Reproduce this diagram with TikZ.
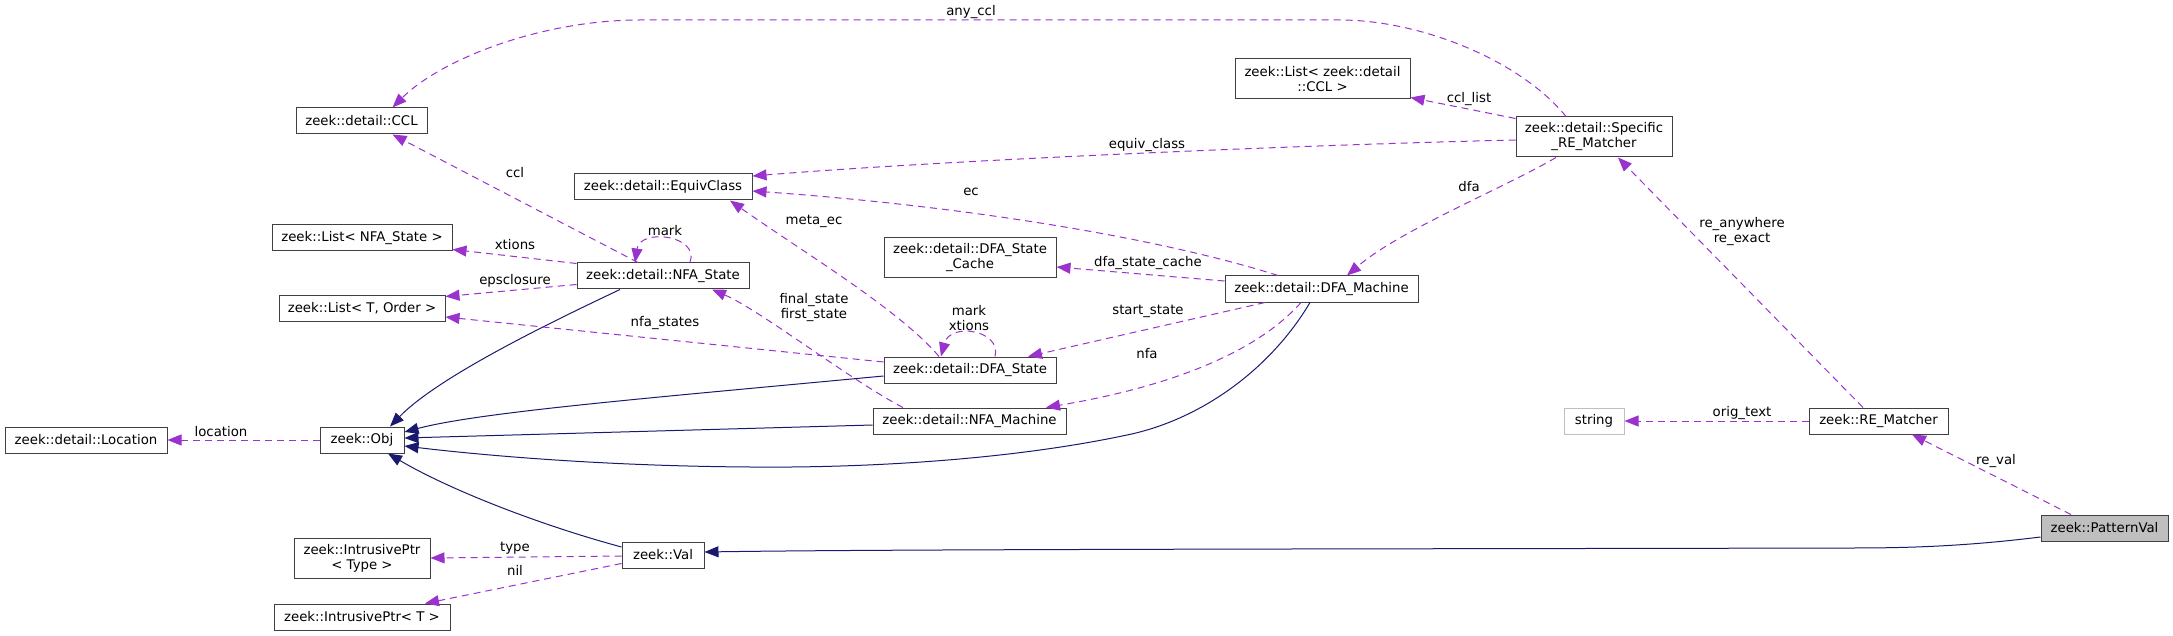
\documentclass[tikz,border=0pt]{standalone}
\usepackage{fontspec}
\setmainfont{DejaVu Sans}
\usetikzlibrary{arrows.meta}
\definecolor{edgepurple}{HTML}{9A32CD}
\definecolor{edgenavy}{HTML}{191970}
\definecolor{boxborder}{HTML}{404040}
\definecolor{lightborder}{HTML}{BFBFBF}
\definecolor{grayfill}{HTML}{BFBFBF}
\begin{document}
\begin{tikzpicture}[x=1pt,y=-1pt,
  font=\fontsize{13.3}{15}\selectfont,
  box/.style={draw=boxborder, line width=1pt, fill=white, inner sep=0pt, minimum height=26pt, align=center},
  tall/.style={minimum height=40pt},
  assoc/.style={draw=edgepurple, line width=1pt, dash pattern=on 7pt off 5pt, -{Triangle[length=14pt,width=11pt]}},
  inherit/.style={draw=edgenavy, line width=1pt, -{Triangle[length=14pt,width=11pt]}},
  lbl/.style={inner sep=0pt, align=center, text=black}]
\useasboundingbox (0,0) rectangle (2173,636);

% nodes
\node[box, minimum width=131pt] (CCL) at (361.5,121) {zeek::detail::CCL};
\node[box, minimum width=178pt] (EquivClass) at (663,187) {zeek::detail::EquivClass};
\node[box, minimum width=180pt] (ListNFA) at (362,238) {zeek::List< NFA\_State >};
\node[box, minimum width=172pt] (NFAState) at (663,276) {zeek::detail::NFA\_State};
\node[box, minimum width=166pt] (ListT) at (362,308) {zeek::List< T, Order >};
\node[box, minimum width=162pt] (Location) at (86,440) {zeek::detail::Location};
\node[box, minimum width=84pt] (Obj) at (362,440) {zeek::Obj};
\node[box, minimum width=82pt] (Val) at (663,555) {zeek::Val};
\node[box, tall, minimum width=136pt] (IPType) at (362,558) {zeek::IntrusivePtr\\< Type >};
\node[box, minimum width=176pt] (IPT) at (362,617) {zeek::IntrusivePtr< T >};
\node[box, tall, minimum width=175pt] (ListCCL) at (1322.5,79) {zeek::List< zeek::detail\\::CCL >};
\node[box, tall, minimum width=156pt] (Specific) at (1594,137) {zeek::detail::Specific\\\_RE\_Matcher};
\node[box, tall, minimum width=172pt] (DFACache) at (970,258) {zeek::detail::DFA\_State\\\_Cache};
\node[box, minimum width=193pt] (DFAMachine) at (1321.5,289) {zeek::detail::DFA\_Machine};
\node[box, minimum width=172pt] (DFAState) at (970,370) {zeek::detail::DFA\_State};
\node[box, minimum width=193pt] (NFAMachine) at (969.5,421) {zeek::detail::NFA\_Machine};
\node[box, draw=lightborder, minimum width=60pt] (String) at (1594,421) {string};
\node[box, minimum width=139pt] (REMatcher) at (1878.5,421) {zeek::RE\_Matcher};
\node[box, fill=grayfill, minimum width=127pt] (PatternVal) at (2104.5,528) {zeek::PatternVal};

% inheritance edges
\draw[inherit] ([xshift=-43pt]NFAState.south) .. controls (560,318) and (440,375) .. ([xshift=28pt]Obj.north);
\draw[inherit] ([yshift=-6pt]DFAState.west) .. controls (650,398) and (480,412) .. ([yshift=8pt]Obj.east);
\draw[inherit] ([yshift=-4pt]NFAMachine.west) -- ([yshift=2pt]Obj.east);
\draw[inherit] ([xshift=-11.5pt]DFAMachine.south) .. controls (1270,370) and (1200,420) .. (1127,435)
   .. controls (1000,462) and (850,468) .. (750,467) .. controls (600,466) and (480,455) .. ([yshift=-6pt]Obj.east);
\draw[inherit] ([yshift=8pt]Val.west) .. controls (540,525) and (450,490) .. ([xshift=26pt]Obj.south);
\draw[inherit] ([yshift=-9pt]PatternVal.west) .. controls (1960,547) and (1900,548) .. (1850,548)
   .. controls (1400,549) and (900,549) .. ([yshift=3pt]Val.east);

% association edges
\draw[assoc] (Obj.west) -- (Location.east);
\draw[assoc] ([xshift=-33.5pt]PatternVal.north) -- ([xshift=33.5pt]REMatcher.south);
\draw[assoc] (REMatcher.west) -- (String.east);
\draw[assoc] ([xshift=-15.5pt]REMatcher.north) -- ([xshift=24pt]Specific.south);
\draw[assoc] ([xshift=-38pt]Specific.south) .. controls (1500,190) and (1400,230) .. ([xshift=25.5pt]DFAMachine.north);
\draw[assoc] ([yshift=-3pt]Specific.west) .. controls (1300,145) and (950,160) .. ([yshift=11pt]EquivClass.east);
\draw[assoc] ([yshift=-2pt]Specific.north west) -- ([yshift=2pt]ListCCL.south east);
\draw[assoc] ([xshift=-28pt]Specific.north) .. controls (1520,60) and (1420,20) .. (1340,20) -- (640,20)
   .. controls (540,20) and (440,60) .. ([xshift=31pt]CCL.north);
\draw[assoc] ([xshift=-43.5pt]DFAMachine.north) .. controls (1150,235) and (950,205) .. ([yshift=-4pt]EquivClass.east);
\draw[assoc] ([yshift=8pt]DFAMachine.west) -- ([yshift=-9pt]DFACache.east);
\draw[assoc] ([xshift=-56.5pt]DFAMachine.south) -- ([xshift=58pt]DFAState.north);
\draw[assoc] ([xshift=-20.5pt]DFAMachine.south) .. controls (1250,360) and (1150,390) .. ([xshift=76.5pt]NFAMachine.north);
\draw[assoc] ([xshift=25pt]DFAState.north) .. controls (1002,330) and (950,322) .. ([xshift=-29pt]DFAState.north);
\draw[assoc] ([xshift=-31pt]DFAState.north) .. controls (900,310) and (800,250) .. ([xshift=67pt]EquivClass.south);
\draw[assoc] ([yshift=8pt]DFAState.west) -- ([yshift=-9pt]ListT.east);
\draw[assoc] ([xshift=-66.5pt]NFAMachine.north) .. controls (850,380) and (760,310) .. ([xshift=49pt]NFAState.south);
\draw[assoc] ([yshift=5pt]NFAState.south west) -- ([yshift=-2pt]ListT.north east);
\draw[assoc] ([yshift=-1pt]NFAState.north west) -- ([yshift=2pt]ListNFA.south east);
\draw[assoc] ([xshift=-25pt]NFAState.north) -- ([xshift=31pt]CCL.south);
\draw[assoc] ([xshift=27pt]NFAState.north) .. controls (700,235) and (640,228) .. ([xshift=-28pt]NFAState.north);
\draw[assoc] ([yshift=-1pt]Val.west) -- (IPType.east);
\draw[assoc] ([yshift=5pt]Val.south west) -- ([xshift=63pt]IPT.north);

% labels
\node[lbl] (Llocation) at (221,432) {location};
\node[lbl] (Lccl) at (515,173) {ccl};
\node[lbl] (Lxtions) at (515,245) {xtions};
\node[lbl] (Leps) at (515,281) {epsclosure};
\node[lbl] (Lmark) at (665,231) {mark};
\node[lbl] (Lmetaec) at (814,221) {meta\_ec};
\node[lbl] (Lfinal) at (814,307.5) {final\_state\\first\_state};
\node[lbl] (Lnfastates) at (665,323) {nfa\_states};
\node[lbl] (Lmarkx) at (969,318) {mark\\xtions};
\node[lbl] (Lstart) at (1148,311) {start\_state};
\node[lbl] (Lnfa) at (1147,354) {nfa};
\node[lbl] (Lcache) at (1148,263) {dfa\_state\_cache};
\node[lbl] (Lec) at (971,192) {ec};
\node[lbl] (Lequiv) at (1147,145) {equiv\_class};
\node[lbl] (Lany) at (971,12) {any\_ccl};
\node[lbl] (Lccllist) at (1469,99) {ccl\_list};
\node[lbl] (Ldfa) at (1469,187) {dfa};
\node[lbl] (Lre) at (1742,232) {re\_anywhere\\re\_exact};
\node[lbl] (Lorig) at (1742,413) {orig\_text};
\node[lbl] (Lreval) at (1996,461) {re\_val};
\node[lbl] (Ltype) at (515,548) {type};
\node[lbl] (Lnil) at (515,570) {nil};
\end{tikzpicture}
\end{document}
